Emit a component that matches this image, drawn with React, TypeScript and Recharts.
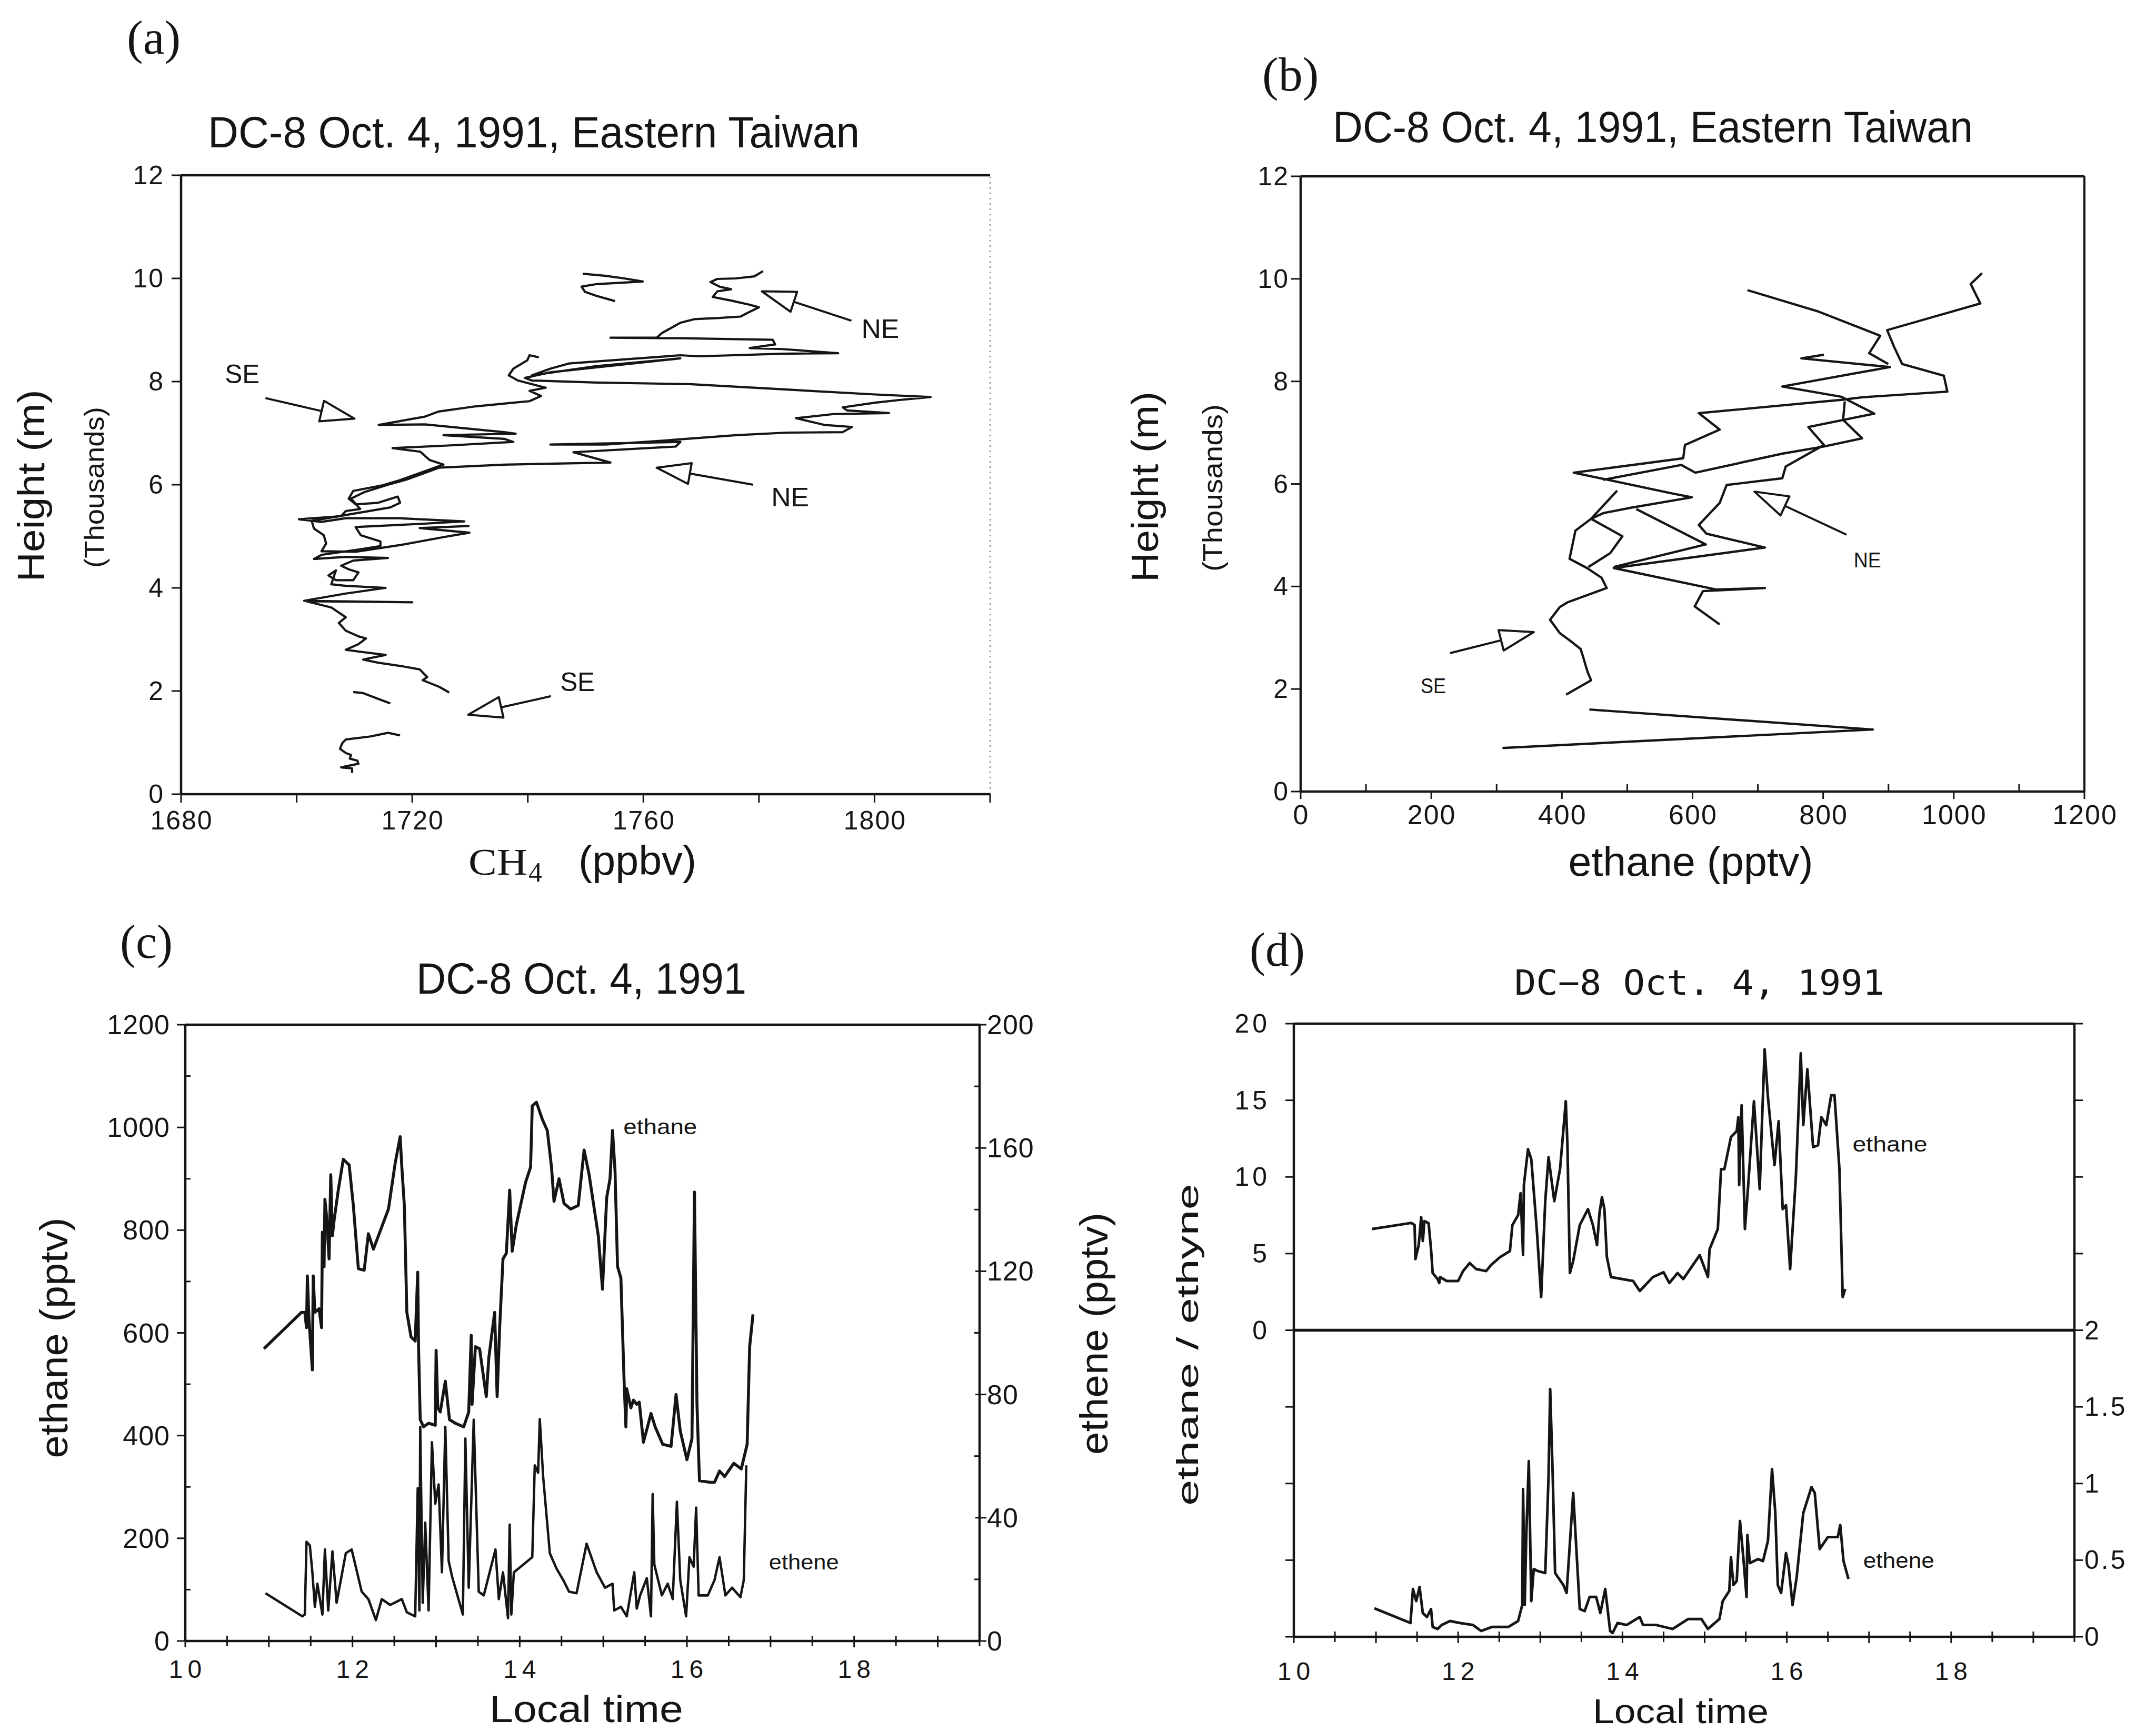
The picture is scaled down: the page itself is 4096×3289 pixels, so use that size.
import React from "react";
import {
  ScatterChart,
  Scatter,
  XAxis,
  YAxis,
  ReferenceLine,
  ReferenceDot,
} from "recharts";

const INK = "#151515";
const SANS = "'Liberation Sans', Arial, Helvetica, sans-serif";
const SERIF = "'Liberation Serif', 'Times New Roman', serif";
const MONO = "'DejaVu Sans Mono', 'Liberation Mono', monospace";

type Pt = [number, number];

// ---------- panel (a): CH4 profiles ----------
const ch4Ticks = [1680, 1700, 1720, 1740, 1760, 1780, 1800, 1820];
const heightTicks = [0, 2, 4, 6, 8, 10, 12];

const ch4UpperFragment: Pt[] = [
  [1749.5, 10.09], [1753.5, 10.05], [1756.7, 10.0], [1759.9, 9.94], [1756.7, 9.92],
  [1751.9, 9.89], [1749.3, 9.84], [1749.9, 9.74], [1751.9, 9.66], [1755.1, 9.56],
];

const ch4NorthEast: Pt[] = [
  [1780.7, 10.14], [1779.2, 10.04], [1776.0, 10.0], [1772.8, 9.99], [1771.6, 9.93],
  [1773.2, 9.84], [1775.2, 9.79], [1772.8, 9.75], [1772.0, 9.64], [1775.2, 9.57],
  [1778.4, 9.49], [1780.0, 9.44], [1778.0, 9.33], [1776.8, 9.26], [1772.8, 9.23],
  [1768.8, 9.21], [1766.4, 9.14], [1764.8, 9.04], [1763.2, 8.94], [1762.3, 8.85],
  [1754.3, 8.85], [1766.4, 8.84], [1782.4, 8.81], [1782.8, 8.72], [1778.4, 8.65],
  [1784.0, 8.63], [1793.7, 8.55], [1784.0, 8.54], [1769.6, 8.49], [1766.4, 8.51],
  [1756.7, 8.43], [1747.1, 8.35], [1743.9, 8.25], [1740.7, 8.12], [1751.9, 8.3],
  [1766.4, 8.45], [1743.9, 8.18], [1739.5, 8.07], [1740.7, 8.02], [1751.9, 7.98],
  [1768.0, 7.95], [1784.0, 7.85], [1800.1, 7.75], [1809.7, 7.7], [1804.1, 7.64],
  [1800.1, 7.59], [1794.5, 7.5], [1795.3, 7.44], [1802.5, 7.39], [1792.9, 7.37],
  [1786.4, 7.29], [1791.3, 7.16], [1796.1, 7.12], [1794.5, 7.02], [1784.8, 7.01],
  [1776.0, 6.96], [1764.0, 6.86], [1753.5, 6.78], [1743.9, 6.78], [1766.4, 6.83],
  [1765.6, 6.74], [1747.9, 6.63], [1754.3, 6.43], [1735.9, 6.39], [1724.6, 6.33],
  [1722.2, 6.23], [1719.0, 6.1], [1715.8, 6.0], [1711.8, 5.86], [1709.4, 5.73],
  [1711.0, 5.53], [1708.5, 5.49], [1707.7, 5.39], [1700.4, 5.33], [1704.3, 5.28],
  [1708.5, 5.35], [1717.9, 5.35], [1729.0, 5.29], [1721.3, 5.24], [1710.2, 5.18],
  [1711.1, 5.02], [1714.5, 4.9], [1714.5, 4.81], [1711.1, 4.75], [1704.3, 4.64],
  [1703.0, 4.56], [1708.5, 4.6], [1715.8, 4.58], [1709.8, 4.53], [1707.7, 4.43],
  [1709.0, 4.36], [1710.7, 4.3], [1709.8, 4.15], [1706.8, 4.15], [1705.5, 4.24],
  [1706.8, 4.34], [1706.0, 4.07], [1708.5, 4.04], [1715.4, 4.0], [1708.5, 3.89],
  [1701.3, 3.75], [1720.0, 3.72], [1701.7, 3.74], [1706.0, 3.62], [1708.5, 3.43],
  [1707.3, 3.32], [1708.5, 3.17], [1710.7, 3.06], [1712.0, 3.02], [1710.7, 2.91],
  [1708.5, 2.8], [1711.1, 2.76], [1715.4, 2.7], [1711.5, 2.61], [1714.1, 2.55],
  [1718.3, 2.48], [1721.3, 2.42], [1722.6, 2.27], [1721.8, 2.21], [1724.7, 2.08],
  [1726.4, 1.97],
];

const ch4SouthEast: Pt[] = [
  [1741.9, 8.47], [1740.3, 8.51], [1739.9, 8.41], [1737.5, 8.25], [1736.7, 8.12],
  [1738.3, 8.02], [1743.1, 7.88], [1740.3, 7.82], [1742.3, 7.72], [1740.3, 7.62],
  [1737.5, 7.59], [1731.0, 7.52], [1724.6, 7.42], [1722.2, 7.32], [1714.2, 7.16],
  [1722.2, 7.17], [1735.9, 7.02], [1737.9, 6.99], [1725.4, 6.96], [1735.9, 6.89],
  [1737.5, 6.83], [1726.2, 6.76], [1716.6, 6.71], [1721.4, 6.64], [1723.0, 6.48],
  [1725.4, 6.39], [1717.9, 6.09], [1714.9, 5.99], [1709.8, 5.88], [1709.0, 5.73],
  [1710.2, 5.62], [1714.1, 5.65], [1717.5, 5.77], [1717.9, 5.65], [1716.2, 5.56],
  [1702.6, 5.3], [1703.0, 5.15], [1704.7, 5.02], [1705.1, 4.86], [1704.3, 4.71],
  [1710.2, 4.7], [1717.9, 4.83], [1725.2, 4.98], [1729.9, 5.07], [1721.3, 5.16],
  [1729.9, 5.2],
];

const ch4LowFragment: Pt[] = [
  [1709.8, 1.98], [1711.5, 1.96], [1713.6, 1.87], [1716.2, 1.76],
];

const ch4BottomCurl: Pt[] = [
  [1717.9, 1.14], [1715.8, 1.19], [1712.8, 1.12], [1708.5, 1.06], [1707.9, 0.99],
  [1707.5, 0.88], [1708.5, 0.8], [1709.4, 0.76], [1709.2, 0.69], [1710.5, 0.65],
  [1710.7, 0.59], [1708.5, 0.54], [1707.7, 0.52], [1709.6, 0.5], [1709.6, 0.41],
];

const ch4Arrows: { tail: Pt; tip: Pt }[] = [
  { tail: [1796, 9.18], tip: [1780.5, 9.75] },
  { tail: [1779, 6.0], tip: [1762.3, 6.33] },
  { tail: [1694.6, 7.68], tip: [1710, 7.28] },
  { tail: [1744, 1.9], tip: [1729.7, 1.54] },
];
const ch4Notes: { at: Pt; text: string; w: number }[] = [
  { at: [1801, 9.02], text: "NE", w: 72 },
  { at: [1785.4, 5.76], text: "NE", w: 72 },
  { at: [1690.6, 8.14], text: "SE", w: 66 },
  { at: [1748.6, 2.17], text: "SE", w: 66 },
];

// ---------- panel (b): ethane profiles ----------
const ethaneAxisTicks = [0, 100, 200, 300, 400, 500, 600, 700, 800, 900, 1000, 1100, 1200];

const ethaneProfileA: Pt[] = [
  [1043.3, 10.11], [1025.8, 9.9], [1040.6, 9.52], [898.0, 9.0], [908.7, 8.67],
  [920.9, 8.34], [984.8, 8.11], [990.1, 7.8], [859.7, 7.69], [827.8, 7.64],
  [609.6, 7.38], [641.6, 7.06], [588.4, 6.76], [585.7, 6.5], [418.1, 6.22],
  [567.1, 5.82], [599.0, 5.74], [503.2, 5.53], [463.3, 5.43], [444.7, 5.32],
  [420.7, 5.09], [411.7, 4.54], [438.3, 4.36], [460.7, 4.17], [468.6, 3.97],
  [408.5, 3.69], [396.8, 3.6], [381.9, 3.35], [396.8, 3.09], [413.8, 2.93],
  [428.7, 2.78], [431.9, 2.65], [439.4, 2.33], [444.7, 2.17], [406.4, 1.89],
];
const ethaneProfileB: Pt[] = [
  [684.1, 9.78], [793.2, 9.36], [887.4, 8.89], [870.4, 8.55], [899.6, 8.34],
];
const ethaneProfileC: Pt[] = [
  [801.2, 8.52], [766.6, 8.45], [902.3, 8.28], [737.4, 7.9], [827.8, 7.7],
  [878.3, 7.37], [777.3, 7.11], [801.2, 6.76], [742.7, 6.34], [737.4, 6.11],
  [652.2, 5.98], [641.6, 5.63], [609.6, 5.2], [621.3, 5.03], [710.8, 4.76],
  [479.3, 4.36], [636.2, 3.94], [710.8, 3.97], [616.0, 3.91], [603.3, 3.61],
  [641.6, 3.26],
];
const ethaneProfileD: Pt[] = [
  [833.1, 7.61], [830.5, 7.25], [859.7, 6.89], [801.2, 6.73], [737.4, 6.59],
  [604.3, 6.22], [583.0, 6.37], [463.3, 6.08],
];
const ethaneProfileE: Pt[] = [
  [484.6, 5.87], [444.7, 5.32], [492.6, 4.98], [474.0, 4.65], [440.4, 4.38],
];
const ethaneProfileF: Pt[] = [
  [513.9, 5.51], [620.3, 4.82], [479.3, 4.38],
];
const ethaneProfileLow: Pt[] = [
  [442, 1.6], [876, 1.21], [309, 0.85],
];

const ethaneArrows: { tail: Pt; tip: Pt }[] = [
  { tail: [835.8, 5.01], tip: [694.8, 5.85] },
  { tail: [228.7, 2.7], tip: [356.9, 3.11] },
];
const ethaneNotes: { at: Pt; text: string; w: number }[] = [
  { at: [867.7, 4.52], text: "NE", w: 52 },
  { at: [203, 2.06], text: "SE", w: 48 },
];

// ---------- panel (c): time series ----------
const timeTicks = [
  10, 10.5, 11, 11.5, 12, 12.5, 13, 13.5, 14, 14.5, 15, 15.5, 16, 16.5, 17, 17.5, 18, 18.5, 19, 19.5,
];
const ethaneTimeTicks = [0, 100, 200, 300, 400, 500, 600, 700, 800, 900, 1000, 1100, 1200];
const etheneTicks = [0, 20, 40, 60, 80, 100, 120, 140, 160, 180, 200];

const ethaneSeries: Pt[] = [
  [10.94, 569], [11.39, 640], [11.43, 640], [11.45, 610], [11.46, 711], [11.48, 625],
  [11.52, 528], [11.53, 711], [11.55, 640], [11.6, 647], [11.63, 610], [11.64, 796],
  [11.66, 729], [11.67, 860], [11.69, 826], [11.72, 744], [11.74, 908], [11.76, 789],
  [11.78, 819], [11.83, 878], [11.89, 938], [11.96, 927], [12.01, 848], [12.07, 725],
  [12.14, 722], [12.19, 793], [12.25, 763], [12.43, 841], [12.51, 930], [12.57, 982],
  [12.59, 923], [12.62, 848], [12.65, 640], [12.7, 592], [12.75, 584], [12.78, 718],
  [12.79, 573], [12.81, 431], [12.85, 417], [12.91, 424], [12.99, 420], [13.0, 566],
  [13.02, 454], [13.05, 446], [13.11, 506], [13.16, 431], [13.23, 424], [13.33, 417],
  [13.39, 446], [13.42, 595], [13.43, 461], [13.47, 573], [13.52, 569], [13.6, 476],
  [13.63, 551], [13.7, 640], [13.73, 476], [13.76, 610], [13.8, 744], [13.84, 755],
  [13.88, 878], [13.91, 759], [13.96, 811], [14.07, 893], [14.13, 923], [14.15, 1042],
  [14.2, 1049], [14.27, 1016], [14.33, 994], [14.38, 923], [14.41, 856], [14.47, 900],
  [14.53, 852], [14.61, 841], [14.7, 848], [14.77, 956], [14.83, 908], [14.94, 789],
  [14.99, 685], [15.04, 863], [15.08, 900], [15.11, 994], [15.14, 915], [15.17, 729],
  [15.21, 707], [15.25, 498], [15.27, 417], [15.28, 491], [15.33, 454], [15.36, 469],
  [15.4, 461], [15.43, 465], [15.48, 387], [15.57, 443], [15.62, 417], [15.71, 383],
  [15.81, 379], [15.87, 480], [15.92, 409], [16.0, 353], [16.06, 394], [16.09, 874],
  [16.12, 461], [16.15, 312], [16.28, 309], [16.33, 309], [16.39, 331], [16.45, 320],
  [16.56, 346], [16.65, 335], [16.72, 383], [16.75, 573], [16.79, 636],
];

const etheneSeries: Pt[] = [
  [10.96, 15.5], [11.4, 8.0], [11.43, 8.6], [11.45, 32.2], [11.49, 31.0], [11.52, 22.3],
  [11.55, 11.1], [11.58, 18.6], [11.64, 8.6], [11.67, 29.7], [11.71, 9.9], [11.76, 29.1],
  [11.81, 12.4], [11.92, 28.5], [11.99, 29.7], [12.11, 16.0], [12.19, 13.6], [12.28, 6.8],
  [12.35, 13.6], [12.45, 11.7], [12.59, 13.6], [12.65, 9.3], [12.75, 8.0], [12.78, 49.6],
  [12.8, 9.9], [12.81, 69.5], [12.84, 12.4], [12.87, 38.4], [12.91, 9.9], [12.95, 64.5],
  [12.99, 44.6], [13.03, 50.8], [13.07, 22.3], [13.11, 69.5], [13.15, 26.0], [13.19, 21.0],
  [13.32, 8.6], [13.35, 65.7], [13.39, 17.3], [13.45, 71.8], [13.51, 16.0], [13.57, 14.8],
  [13.71, 29.7], [13.75, 13.6], [13.8, 22.3], [13.86, 7.4], [13.88, 37.8], [13.9, 8.6],
  [13.93, 22.3], [14.15, 27.2], [14.18, 57.0], [14.22, 54.6], [14.24, 72.0], [14.28, 53.4],
  [14.36, 28.5], [14.44, 23.5], [14.52, 19.8], [14.59, 16.0], [14.68, 15.5], [14.8, 31.6],
  [14.92, 22.3], [15.02, 17.3], [15.11, 18.6], [15.13, 9.9], [15.21, 11.1], [15.28, 8.0],
  [15.37, 22.3], [15.4, 10.5], [15.44, 14.8], [15.52, 20.4], [15.57, 8.0], [15.59, 47.7],
  [15.61, 24.8], [15.7, 14.8], [15.77, 18.6], [15.83, 13.6], [15.88, 45.2], [15.92, 19.8],
  [15.99, 8.0], [16.03, 27.2], [16.08, 24.1], [16.11, 43.3], [16.14, 14.8], [16.25, 14.8],
  [16.33, 19.8], [16.39, 27.2], [16.46, 14.8], [16.54, 17.3], [16.64, 14.2], [16.68, 19.8],
  [16.71, 57.0],
];

// ---------- panel (d): ratios to ethyne ----------
const ratioLeftTicks = [-20, -15, -10, -5, 0, 5, 10, 15, 20];
const ratioRightTicks = [0, 0.5, 1, 1.5, 2, 2.5, 3, 3.5, 4];

const ethaneRatio: Pt[] = [
  [10.95, 6.6], [11.43, 7.0], [11.47, 6.86], [11.48, 4.64], [11.52, 5.55], [11.55, 7.38],
  [11.57, 5.82], [11.59, 7.12], [11.64, 6.99], [11.67, 5.29], [11.69, 3.73], [11.75, 3.34],
  [11.77, 3.08], [11.78, 3.47], [11.86, 3.21], [12.0, 3.21], [12.06, 3.86], [12.14, 4.38],
  [12.22, 3.99], [12.34, 3.86], [12.4, 4.25], [12.51, 4.77], [12.63, 5.16], [12.66, 6.86],
  [12.73, 7.51], [12.76, 8.94], [12.79, 4.9], [12.8, 9.47], [12.85, 11.81], [12.89, 11.16],
  [12.93, 8.42], [12.96, 6.34], [13.01, 2.16], [13.06, 8.42], [13.1, 11.29], [13.17, 8.42],
  [13.24, 10.51], [13.31, 14.94], [13.33, 12.07], [13.36, 3.73], [13.4, 4.51], [13.48, 6.86],
  [13.58, 7.9], [13.64, 6.86], [13.69, 5.55], [13.72, 7.64], [13.75, 8.68], [13.78, 7.9],
  [13.81, 4.77], [13.86, 3.47], [14.13, 3.21], [14.21, 2.56], [14.37, 3.47], [14.5, 3.78],
  [14.57, 3.08], [14.67, 3.73], [14.74, 3.34], [14.84, 4.12], [14.94, 4.9], [15.04, 3.47],
  [15.06, 5.29], [15.16, 6.6], [15.2, 10.51], [15.24, 10.51], [15.32, 12.6], [15.39, 12.99],
  [15.41, 13.9], [15.42, 9.47], [15.45, 14.68], [15.49, 6.6], [15.53, 9.47], [15.6, 14.94],
  [15.67, 9.21], [15.7, 13.9], [15.73, 18.33], [15.77, 15.2], [15.85, 10.77], [15.9, 13.64],
  [15.95, 7.9], [15.99, 8.16], [16.04, 3.99], [16.11, 9.99], [16.17, 18.07], [16.2, 13.38],
  [16.25, 17.03], [16.32, 11.94], [16.38, 12.07], [16.42, 13.9], [16.48, 13.38], [16.54, 15.33],
  [16.58, 15.33], [16.64, 10.51], [16.68, 2.16], [16.71, 2.69],
];

const etheneRatio: Pt[] = [
  [10.98, 0.186], [11.42, 0.09], [11.45, 0.312], [11.49, 0.233], [11.53, 0.325], [11.57, 0.155],
  [11.62, 0.129], [11.67, 0.181], [11.69, 0.064], [11.75, 0.051], [11.8, 0.077], [11.9, 0.103],
  [12.02, 0.09], [12.18, 0.077], [12.28, 0.038], [12.41, 0.064], [12.61, 0.064], [12.73, 0.103],
  [12.78, 0.207], [12.79, 0.964], [12.81, 0.207], [12.83, 0.677], [12.86, 1.146], [12.89, 0.233],
  [12.92, 0.442], [12.97, 0.429], [13.06, 0.416], [13.1, 1.042], [13.12, 1.616], [13.15, 1.068],
  [13.18, 0.416], [13.28, 0.338], [13.32, 0.286], [13.4, 0.938], [13.48, 0.181], [13.54, 0.168],
  [13.6, 0.26], [13.68, 0.26], [13.73, 0.155], [13.79, 0.312], [13.85, 0.038], [13.88, 0.025],
  [13.94, 0.09], [14.05, 0.077], [14.21, 0.129], [14.25, 0.077], [14.41, 0.077], [14.61, 0.051],
  [14.8, 0.116], [14.96, 0.116], [15.04, 0.051], [15.18, 0.116], [15.22, 0.233], [15.3, 0.299],
  [15.32, 0.52], [15.35, 0.338], [15.39, 0.364], [15.43, 0.755], [15.47, 0.52], [15.51, 0.26],
  [15.52, 0.664], [15.55, 0.481], [15.65, 0.507], [15.71, 0.494], [15.77, 0.625], [15.82, 1.094],
  [15.86, 0.807], [15.89, 0.338], [15.93, 0.286], [15.99, 0.546], [16.02, 0.468], [16.07, 0.207],
  [16.12, 0.39], [16.2, 0.807], [16.3, 0.977], [16.34, 0.938], [16.4, 0.572], [16.5, 0.651],
  [16.62, 0.651], [16.65, 0.729], [16.69, 0.494], [16.75, 0.377],
];

// ---------- helpers ----------
const toXY = (pts: Pt[]) => pts.map(([x, y]) => ({ x, y }));
const NoDot = () => <g />;

type TickStyle = {
  side: "left" | "right" | "bottom";
  major: (v: number) => boolean;
  label: (v: number) => string;
  out: [number, number];
  inside: [number, number];
  gap: number;
  size: number;
  spacing?: number;
  family?: string;
};

const makeTick = (s: TickStyle) => (props: any) => {
  const x = Number(props.x);
  const y = Number(props.y);
  const v = Number(props.payload?.value);
  const k = s.major(v) ? 0 : 1;
  const o = s.out[k];
  const i = s.inside[k];
  const text = s.label(v);
  const font = {
    fill: INK,
    fontFamily: s.family ?? SANS,
    fontSize: s.size,
    letterSpacing: s.spacing ?? 0,
  };
  if (s.side === "bottom") {
    return (
      <g>
        <line x1={x} x2={x} y1={y - i} y2={y + o} stroke={INK} strokeWidth={3} />
        {text && (
          <text x={x + (s.spacing ?? 0) / 2} y={y + s.gap} textAnchor="middle" {...font}>
            {text}
          </text>
        )}
      </g>
    );
  }
  const dir = s.side === "left" ? -1 : 1;
  return (
    <g>
      <line x1={x - dir * i} x2={x + dir * o} y1={y} y2={y} stroke={INK} strokeWidth={3} />
      {text && (
        <text
          x={x + dir * s.gap}
          y={y}
          textAnchor={s.side === "left" ? "end" : "start"}
          dominantBaseline="central"
          {...font}
        >
          {text}
        </text>
      )}
    </g>
  );
};

const arrowShape = (props: any) => {
  const { x1, y1, x2, y2 } = props;
  const dx = x2 - x1;
  const dy = y2 - y1;
  const len = Math.hypot(dx, dy) || 1;
  const ux = dx / len;
  const uy = dy / len;
  const L = 64;
  const W = 20;
  const bx = x2 - ux * L;
  const by = y2 - uy * L;
  const px = -uy * W;
  const py = ux * W;
  return (
    <g>
      <line x1={x1} y1={y1} x2={bx} y2={by} stroke={INK} strokeWidth={4} />
      <polygon
        points={`${x2},${y2} ${bx + px},${by + py} ${bx - px},${by - py}`}
        fill="#fff"
        stroke={INK}
        strokeWidth={4}
        strokeLinejoin="round"
      />
    </g>
  );
};

const noteShape = (text: string, size: number, width: number, anchor: "middle" | "start") =>
  (p: any) => (
    <text
      x={p.cx}
      y={p.cy}
      textAnchor={anchor}
      dominantBaseline="central"
      fontFamily={SANS}
      fontSize={size}
      fill={INK}
      textLength={width}
      lengthAdjust="spacingAndGlyphs"
    >
      {text}
    </text>
  );

const axisLine = { stroke: INK, strokeWidth: 4.5 };
const profileTickY = (gap: number) =>
  makeTick({
    side: "left",
    major: () => true,
    label: (v) => String(v),
    out: [18, 18],
    inside: [0, 0],
    gap,
    size: 50,
    spacing: 2,
  });

const timeTick = (gap: number) =>
  makeTick({
    side: "bottom",
    major: (v) => Number.isInteger(v),
    label: (v) => (v % 2 === 0 && v <= 18 ? String(v) : ""),
    out: [12, 10],
    inside: [10, 10],
    gap,
    size: 48,
    spacing: 9,
  });

const line = (w: number) => ({ stroke: INK, strokeWidth: w, strokeLinejoin: "round" as const });

// ---------- panels ----------
const PanelA = () => (
  <ScatterChart width={2100} height={1720} margin={{ top: 333, right: 219, bottom: 0, left: 0 }}>
    <XAxis
      type="number"
      dataKey="x"
      domain={[1680, 1820]}
      ticks={ch4Ticks}
      interval={0}
      allowDataOverflow
      height={211}
      axisLine={axisLine}
      tickLine={false}
      tickSize={0}
      tickMargin={0}
      tick={makeTick({
        side: "bottom",
        major: (v) => (v - 1680) % 40 === 0,
        label: (v) => ((v - 1680) % 40 === 0 ? String(v) : ""),
        out: [16, 16],
        inside: [0, 0],
        gap: 67,
        size: 50,
        spacing: 2,
      })}
    />
    <YAxis
      type="number"
      dataKey="y"
      domain={[0, 12]}
      ticks={heightTicks}
      interval={0}
      allowDataOverflow
      width={344}
      axisLine={axisLine}
      tickLine={false}
      tickSize={0}
      tickMargin={0}
      tick={profileTickY(32)}
    />
    <ReferenceLine y={12} stroke={INK} strokeWidth={4.5} />
    <ReferenceLine x={1820} stroke="#777" strokeWidth={2} strokeDasharray="3 7" />
    {[ch4UpperFragment, ch4NorthEast, ch4SouthEast, ch4LowFragment, ch4BottomCurl].map((s, i) => (
      <Scatter
        key={i}
        data={toXY(s)}
        fill={INK}
        line={line(4.2)}
        lineType="joint"
        shape={NoDot}
        isAnimationActive={false}
      />
    ))}
    {ch4Arrows.map((a, i) => (
      <ReferenceLine
        key={`ar${i}`}
        segment={[{ x: a.tail[0], y: a.tail[1] }, { x: a.tip[0], y: a.tip[1] }]}
        shape={arrowShape}
        ifOverflow="visible"
      />
    ))}
    {ch4Notes.map((n, i) => (
      <ReferenceDot
        key={`n${i}`}
        x={n.at[0]}
        y={n.at[1]}
        r={0}
        ifOverflow="visible"
        shape={noteShape(n.text, 50, n.w, "middle")}
      />
    ))}
  </ScatterChart>
);

const PanelB = () => (
  <ScatterChart width={1946} height={1720} margin={{ top: 335, right: 136, bottom: 0, left: 0 }}>
    <XAxis
      type="number"
      dataKey="x"
      domain={[0, 1200]}
      ticks={ethaneAxisTicks}
      interval={0}
      allowDataOverflow
      height={216}
      axisLine={axisLine}
      tickLine={false}
      tickSize={0}
      tickMargin={0}
      tick={makeTick({
        side: "bottom",
        major: (v) => v % 200 === 0,
        label: (v) => (v % 200 === 0 ? String(v) : ""),
        out: [14, 0],
        inside: [0, 14],
        gap: 62,
        size: 52,
        spacing: 2,
      })}
    />
    <YAxis
      type="number"
      dataKey="y"
      domain={[0, 12]}
      ticks={heightTicks}
      interval={0}
      allowDataOverflow
      width={321}
      axisLine={axisLine}
      tickLine={false}
      tickSize={0}
      tickMargin={0}
      tick={profileTickY(22)}
    />
    <ReferenceLine y={12} stroke={INK} strokeWidth={4.5} />
    <ReferenceLine x={1200} stroke={INK} strokeWidth={4} />
    {[
      ethaneProfileA,
      ethaneProfileB,
      ethaneProfileC,
      ethaneProfileD,
      ethaneProfileE,
      ethaneProfileF,
      ethaneProfileLow,
    ].map((s, i) => (
      <Scatter
        key={i}
        data={toXY(s)}
        fill={INK}
        line={line(4.4)}
        lineType="joint"
        shape={NoDot}
        isAnimationActive={false}
      />
    ))}
    {ethaneArrows.map((a, i) => (
      <ReferenceLine
        key={`ar${i}`}
        segment={[{ x: a.tail[0], y: a.tail[1] }, { x: a.tip[0], y: a.tip[1] }]}
        shape={arrowShape}
        ifOverflow="visible"
      />
    ))}
    {ethaneNotes.map((n, i) => (
      <ReferenceDot
        key={`n${i}`}
        x={n.at[0]}
        y={n.at[1]}
        r={0}
        ifOverflow="visible"
        shape={noteShape(n.text, 40, n.w, "middle")}
      />
    ))}
  </ScatterChart>
);

const PanelC = () => (
  <ScatterChart width={2100} height={1529} margin={{ top: 187, right: 0, bottom: 0, left: 0 }}>
    <XAxis
      type="number"
      dataKey="x"
      domain={[10, 19.5]}
      ticks={timeTicks}
      interval={0}
      allowDataOverflow
      height={171}
      axisLine={axisLine}
      tickLine={false}
      tickSize={0}
      tickMargin={0}
      tick={timeTick(70)}
    />
    <YAxis
      yAxisId="left"
      orientation="left"
      type="number"
      dataKey="y"
      domain={[0, 1200]}
      ticks={ethaneTimeTicks}
      interval={0}
      allowDataOverflow
      width={352}
      axisLine={axisLine}
      tickLine={false}
      tickSize={0}
      tickMargin={0}
      tick={makeTick({
        side: "left",
        major: (v) => v % 200 === 0,
        label: (v) => (v % 200 === 0 ? String(v) : ""),
        out: [16, 0],
        inside: [0, 10],
        gap: 29,
        size: 52,
        spacing: 1,
      })}
    />
    <YAxis
      yAxisId="right"
      orientation="right"
      type="number"
      dataKey="y"
      domain={[0, 200]}
      ticks={etheneTicks}
      interval={0}
      allowDataOverflow
      width={239}
      axisLine={axisLine}
      tickLine={false}
      tickSize={0}
      tickMargin={0}
      tick={makeTick({
        side: "right",
        major: (v) => v % 40 === 0,
        label: (v) => (v % 40 === 0 ? String(v) : ""),
        out: [13, 0],
        inside: [8, 10],
        gap: 14,
        size: 52,
        spacing: 1,
      })}
    />
    <ReferenceLine yAxisId="left" y={1200} stroke={INK} strokeWidth={4.5} />
    <Scatter
      yAxisId="left"
      data={toXY(ethaneSeries)}
      fill={INK}
      line={line(5.6)}
      lineType="joint"
      shape={NoDot}
      isAnimationActive={false}
    />
    <Scatter
      yAxisId="right"
      data={toXY(etheneSeries)}
      fill={INK}
      line={line(4.6)}
      lineType="joint"
      shape={NoDot}
      isAnimationActive={false}
    />
    <ReferenceDot
      yAxisId="left"
      x={15.24}
      y={1001}
      r={0}
      ifOverflow="visible"
      shape={noteShape("ethane", 40, 140, "start")}
    />
    <ReferenceDot
      yAxisId="left"
      x={16.98}
      y={154}
      r={0}
      ifOverflow="visible"
      shape={noteShape("ethene", 40, 133, "start")}
    />
  </ScatterChart>
);

const PanelD = () => (
  <ScatterChart width={1946} height={1529} margin={{ top: 185, right: 0, bottom: 0, left: 0 }}>
    <XAxis
      type="number"
      dataKey="x"
      domain={[10, 19.5]}
      ticks={timeTicks}
      interval={0}
      allowDataOverflow
      height={179}
      axisLine={axisLine}
      tickLine={false}
      tickSize={0}
      tickMargin={0}
      tick={timeTick(82)}
    />
    <YAxis
      yAxisId="left"
      orientation="left"
      type="number"
      dataKey="y"
      domain={[-20, 20]}
      ticks={ratioLeftTicks}
      interval={0}
      allowDataOverflow
      width={308}
      axisLine={axisLine}
      tickLine={false}
      tickSize={0}
      tickMargin={0}
      tick={makeTick({
        side: "left",
        major: () => true,
        label: (v) => (v >= 0 ? String(v) : ""),
        out: [16, 16],
        inside: [0, 0],
        gap: 45,
        size: 50,
        spacing: 6,
      })}
    />
    <YAxis
      yAxisId="right"
      orientation="right"
      type="number"
      dataKey="y"
      domain={[0, 4]}
      ticks={ratioRightTicks}
      interval={0}
      allowDataOverflow
      width={155}
      axisLine={axisLine}
      tickLine={false}
      tickSize={0}
      tickMargin={0}
      tick={makeTick({
        side: "right",
        major: () => true,
        label: (v) => (v <= 2 ? String(v) : ""),
        out: [16, 16],
        inside: [0, 0],
        gap: 19,
        size: 50,
        spacing: 4,
      })}
    />
    <ReferenceLine yAxisId="left" y={20} stroke={INK} strokeWidth={4.5} />
    <ReferenceLine yAxisId="left" y={0} stroke={INK} strokeWidth={5.5} />
    <Scatter
      yAxisId="left"
      data={toXY(ethaneRatio)}
      fill={INK}
      line={line(5)}
      lineType="joint"
      shape={NoDot}
      isAnimationActive={false}
    />
    <Scatter
      yAxisId="right"
      data={toXY(etheneRatio)}
      fill={INK}
      line={line(5)}
      lineType="joint"
      shape={NoDot}
      isAnimationActive={false}
    />
    <ReferenceDot
      yAxisId="left"
      x={16.8}
      y={12.15}
      r={0}
      ifOverflow="visible"
      shape={noteShape("ethane", 40, 142, "start")}
    />
    <ReferenceDot
      yAxisId="right"
      x={16.93}
      y={0.497}
      r={0}
      ifOverflow="visible"
      shape={noteShape("ethene", 40, 135, "start")}
    />
  </ScatterChart>
);

const txt = { fill: INK, fontFamily: SANS };

const Overlay = () => (
  <svg
    width={4096}
    height={3289}
    style={{ position: "absolute", left: 0, top: 0, pointerEvents: "none" }}
  >
    {/* (a) */}
    <text x={241} y={102} fontFamily={SERIF} fontSize={92} fill={INK}>(a)</text>
    <text x={395} y={280} {...txt} fontSize={84} textLength={1238} lengthAdjust="spacingAndGlyphs">
      DC-8 Oct. 4, 1991, Eastern Taiwan
    </text>
    <text transform="translate(84,923) rotate(-90)" textAnchor="middle" {...txt} fontSize={72}
      textLength={365} lengthAdjust="spacingAndGlyphs">Height (m)</text>
    <text transform="translate(197,926) rotate(-90)" textAnchor="middle" {...txt} fontSize={52}
      textLength={306} lengthAdjust="spacingAndGlyphs">(Thousands)</text>
    <text y={1662} fill={INK}>
      <tspan x={890} fontFamily={SERIF} fontSize={72} textLength={112} lengthAdjust="spacingAndGlyphs">CH</tspan>
      <tspan x={1004} dy={13} fontFamily={SERIF} fontSize={52}>4</tspan>
      <tspan x={1099} dy={-13} fontFamily={SANS} fontSize={78} textLength={224} lengthAdjust="spacingAndGlyphs">(ppbv)</tspan>
    </text>

    {/* (b) */}
    <text x={2398} y={172} fontFamily={SERIF} fontSize={92} fill={INK}>(b)</text>
    <text x={2532} y={270} {...txt} fontSize={84} textLength={1216} lengthAdjust="spacingAndGlyphs">
      DC-8 Oct. 4, 1991, Eastern Taiwan
    </text>
    <text transform="translate(2200,925) rotate(-90)" textAnchor="middle" {...txt} fontSize={72}
      textLength={362} lengthAdjust="spacingAndGlyphs">Height (m)</text>
    <text transform="translate(2322,927) rotate(-90)" textAnchor="middle" {...txt} fontSize={52}
      textLength={318} lengthAdjust="spacingAndGlyphs">(Thousands)</text>
    <text x={3212} y={1664} textAnchor="middle" {...txt} fontSize={78} textLength={465}
      lengthAdjust="spacingAndGlyphs">ethane (pptv)</text>

    {/* (c) */}
    <text x={228} y={1820} fontFamily={SERIF} fontSize={90} fill={INK}>(c)</text>
    <text x={791} y={1888} {...txt} fontSize={84} textLength={627} lengthAdjust="spacingAndGlyphs">
      DC-8 Oct. 4, 1991
    </text>
    <text transform="translate(128,2542) rotate(-90)" textAnchor="middle" {...txt} fontSize={74}
      textLength={457} lengthAdjust="spacingAndGlyphs">ethane (pptv)</text>
    <text transform="translate(2104,2534) rotate(-90)" textAnchor="middle" {...txt} fontSize={74}
      textLength={460} lengthAdjust="spacingAndGlyphs">ethene (pptv)</text>
    <text x={1114} y={3272} textAnchor="middle" {...txt} fontSize={72} textLength={368}
      lengthAdjust="spacingAndGlyphs">Local time</text>

    {/* (d) */}
    <text x={2374} y={1835} fontFamily={SERIF} fontSize={90} fill={INK}>(d)</text>
    <text x={2877} y={1890} fontFamily={MONO} fontSize={66} fill={INK} textLength={703}
      lengthAdjust="spacingAndGlyphs">DC−8 Oct. 4, 1991</text>
    <text transform="translate(2276,2555) rotate(-90)" textAnchor="middle" {...txt} fontSize={58}
      textLength={612} lengthAdjust="spacingAndGlyphs">ethane / ethyne</text>
    <text x={3193} y={3274} textAnchor="middle" {...txt} fontSize={64} textLength={334}
      lengthAdjust="spacingAndGlyphs">Local time</text>
  </svg>
);

const box = (left: number, top: number): React.CSSProperties => ({
  position: "absolute",
  left,
  top,
});

export default function App() {
  return (
    <div
      style={{
        position: "absolute",
        left: 0,
        top: 0,
        width: 4096,
        height: 3289,
        background: "#fff",
        overflow: "hidden",
      }}
    >
      <div style={box(0, 0)}>
        <PanelA />
      </div>
      <div style={box(2150, 0)}>
        <PanelB />
      </div>
      <div style={box(0, 1760)}>
        <PanelC />
      </div>
      <div style={box(2150, 1760)}>
        <PanelD />
      </div>
      <Overlay />
    </div>
  );
}
